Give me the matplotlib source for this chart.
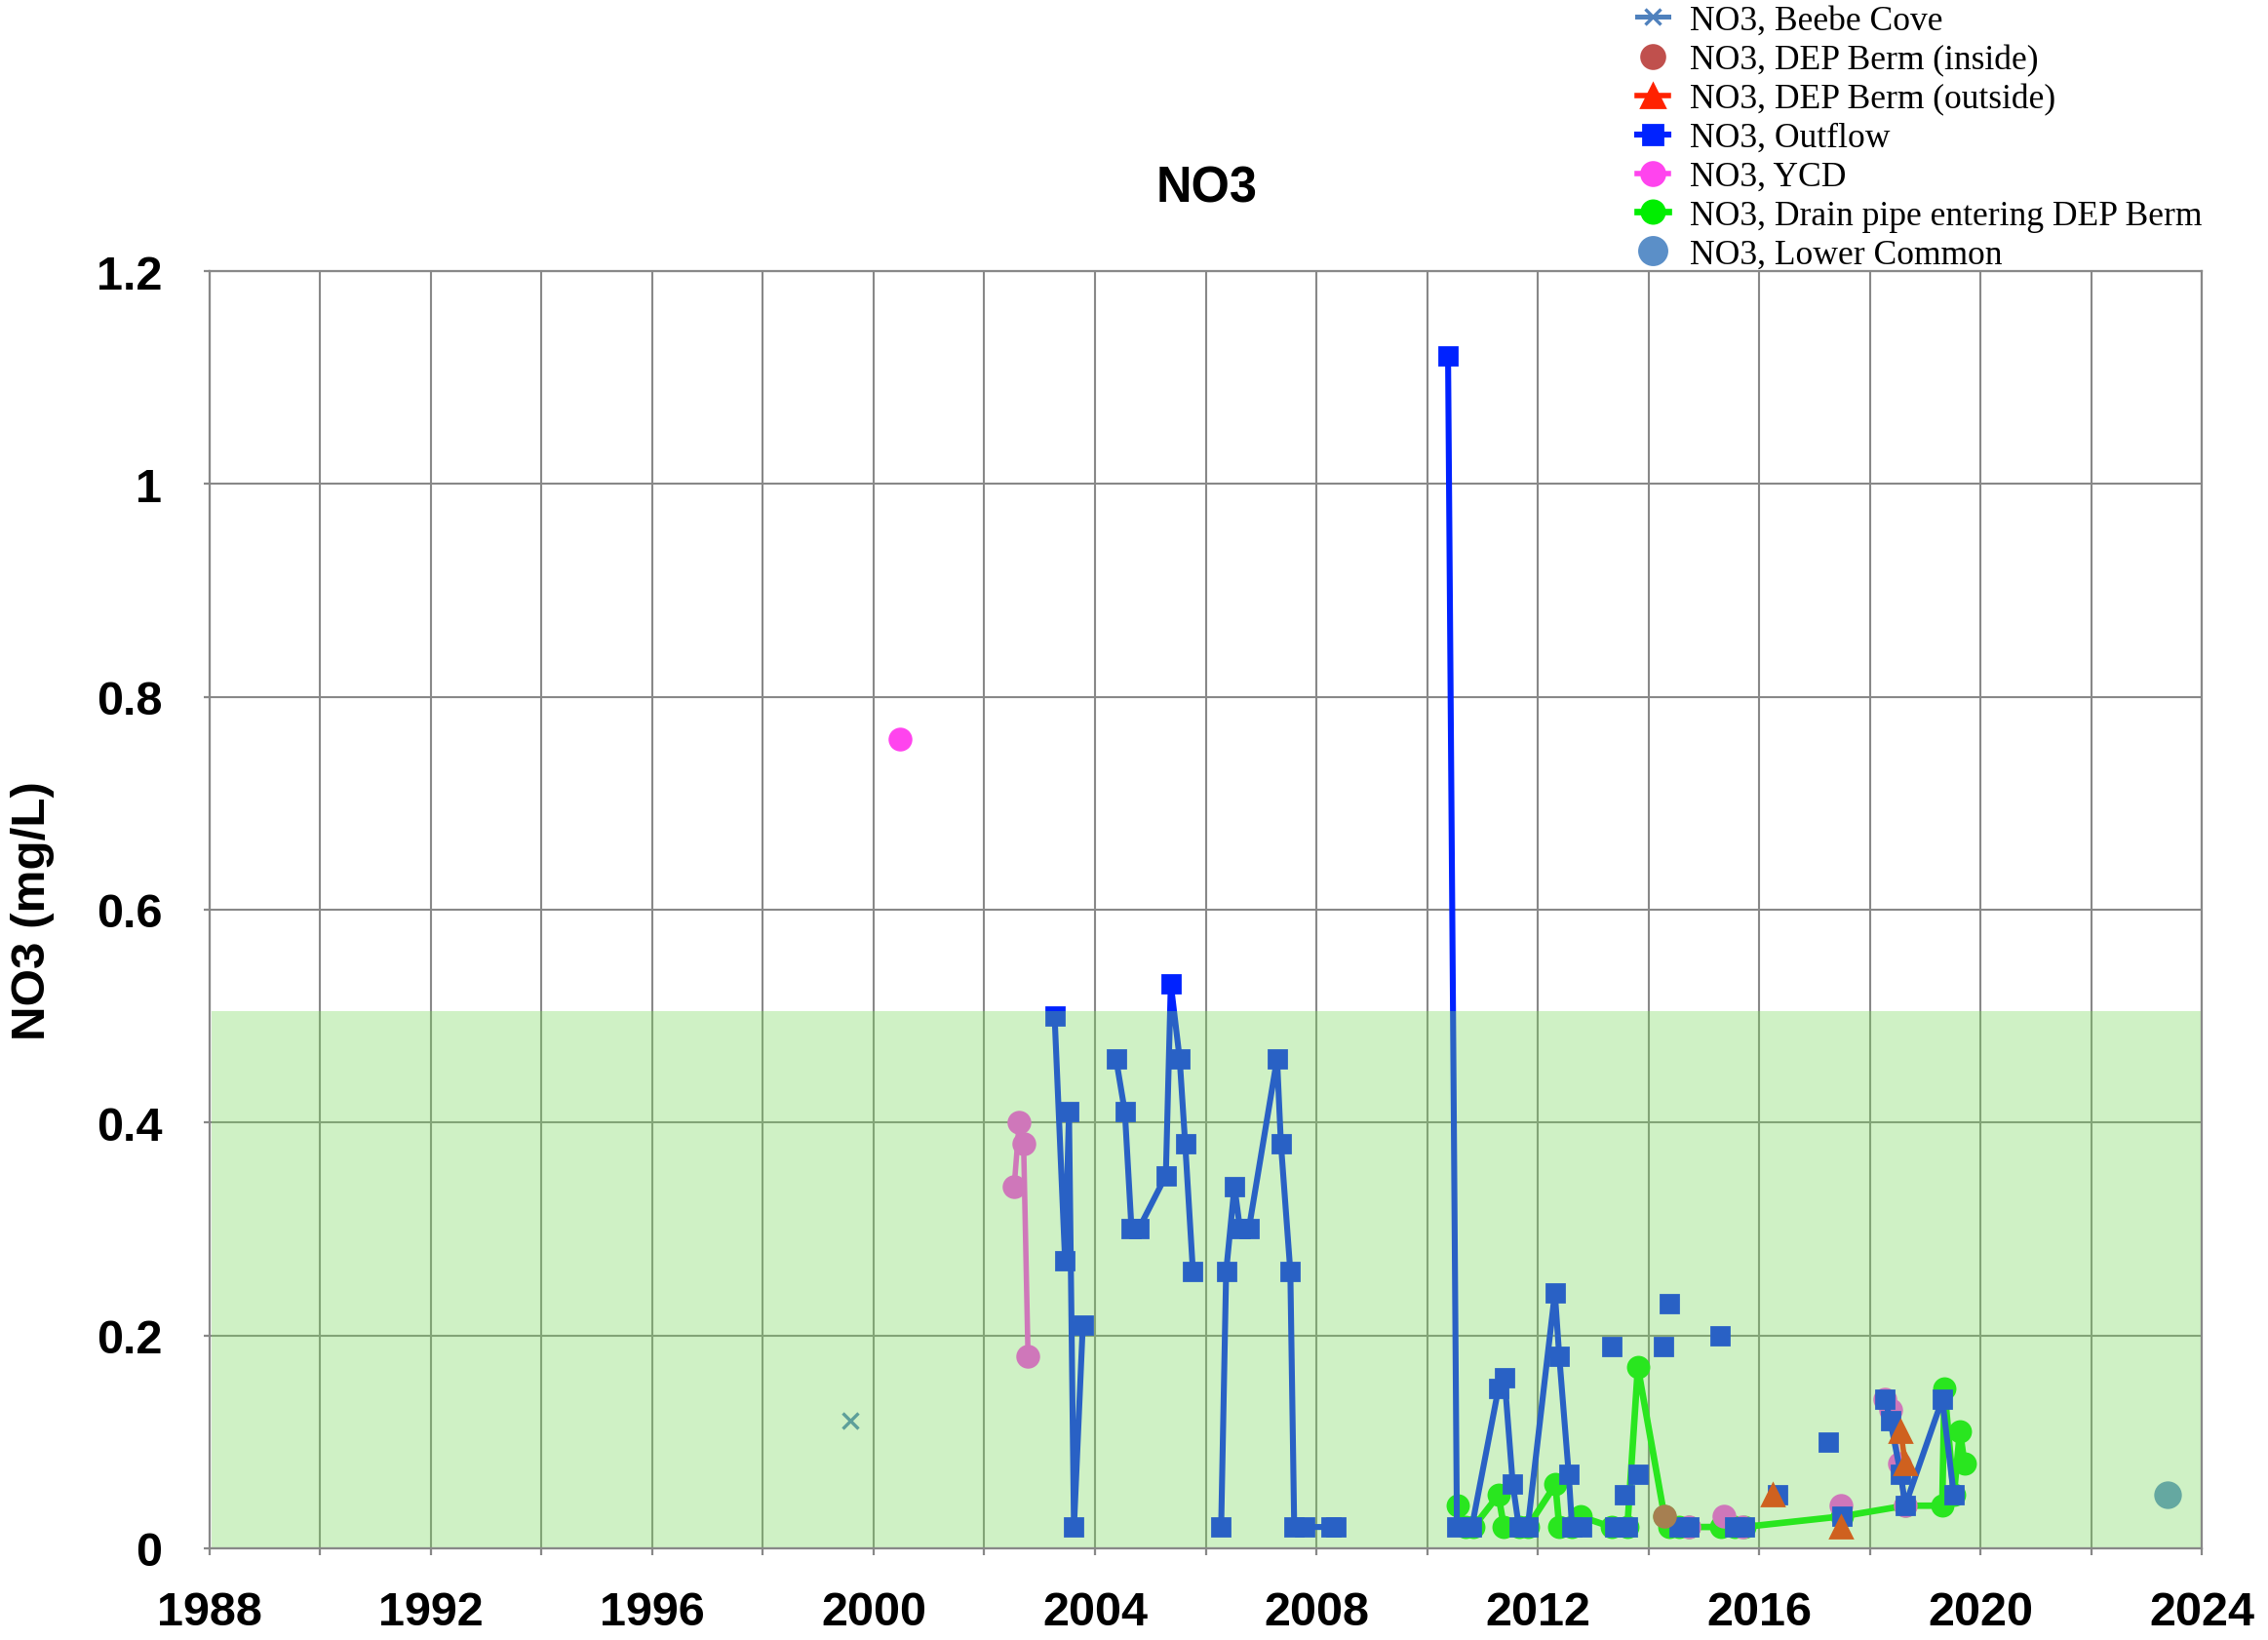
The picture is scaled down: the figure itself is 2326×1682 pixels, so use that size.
import numpy as np
import matplotlib
matplotlib.use("Agg")
import matplotlib.pyplot as plt
from matplotlib.ticker import MultipleLocator, FuncFormatter

nan = np.nan

# NO3 (mg/L) by decimal year; nan = gap in the line (blank cell)
beebe_x = [1999.58]
beebe_y = [0.12]

berm_in_x = [2014.29]
berm_in_y = [0.03]

berm_out_x = [2016.25, nan, 2017.48, nan, 2018.56, 2018.64]
berm_out_y = [0.05, nan, 0.02, nan, 0.11, 0.08]

outflow_x = [2003.27, 2003.46, 2003.53, 2003.62, 2003.78, nan,
             2004.38, 2004.54, 2004.66, 2004.79, 2005.28, 2005.37, 2005.53, 2005.63, 2005.77, nan,
             2006.28, 2006.37, 2006.52, 2006.62, 2006.78, 2007.29, 2007.36, 2007.53, 2007.60,
             2007.78, 2008.27, 2008.36, nan,
             2010.38, 2010.54, 2010.81, 2011.29, 2011.40, 2011.55, 2011.66, 2011.82, 2012.31,
             2012.39, 2012.56, 2012.62, 2012.80, nan,
             2013.33, nan, 2013.39, nan, 2013.56, nan, 2013.62, nan, 2013.81, nan,
             2014.28, nan, 2014.38, nan, 2014.56, nan, 2014.73, nan, 2015.30, nan,
             2015.55, nan, 2015.73, nan, 2016.33, nan, 2017.25, nan, 2017.50, nan,
             2018.28, 2018.37, 2018.56, 2018.64, 2019.31, 2019.52]
outflow_y = [0.50, 0.27, 0.41, 0.02, 0.21, nan,
             0.46, 0.41, 0.30, 0.30, 0.35, 0.53, 0.46, 0.38, 0.26, nan,
             0.02, 0.26, 0.34, 0.30, 0.30, 0.46, 0.38, 0.26, 0.02,
             0.02, 0.02, 0.02, nan,
             1.12, 0.02, 0.02, 0.15, 0.16, 0.06, 0.02, 0.02, 0.24,
             0.18, 0.07, 0.02, 0.02, nan,
             0.19, nan, 0.02, nan, 0.05, nan, 0.02, nan, 0.07, nan,
             0.19, nan, 0.23, nan, 0.02, nan, 0.02, nan, 0.20, nan,
             0.02, nan, 0.02, nan, 0.05, nan, 0.10, nan, 0.03, nan,
             0.14, 0.12, 0.07, 0.04, 0.14, 0.05]

ycd_x = [2000.48, nan, 2002.54, 2002.63, 2002.71, 2002.79, nan,
         2014.73, nan, 2015.37, nan, 2015.70, nan, 2017.48, nan,
         2018.28, 2018.37, 2018.53, 2018.64]
ycd_y = [0.76, nan, 0.34, 0.40, 0.38, 0.18, nan,
         0.02, nan, 0.03, nan, 0.02, nan, 0.04, nan,
         0.14, 0.13, 0.08, 0.04]

drain_x = [2010.56, 2010.69, 2010.84, 2011.29, 2011.39, 2011.66, 2011.82, 2012.32, 2012.39,
           2012.62, 2012.77, 2013.33, 2013.62, 2013.81, 2014.29, 2014.38, 2014.56, 2014.73,
           2015.32, 2015.55, 2015.73, 2017.50, 2018.64, 2019.31, 2019.35, 2019.52, 2019.63,
           2019.71]
drain_y = [0.04, 0.02, 0.02, 0.05, 0.02, 0.02, 0.02, 0.06, 0.02,
           0.02, 0.03, 0.02, 0.02, 0.17, 0.03, 0.02, 0.02, 0.02,
           0.02, 0.02, 0.02, 0.03, 0.04, 0.04, 0.15, 0.05, 0.11,
           0.08]

lower_x = [2023.38]
lower_y = [0.05]

guide_top = 0.505  # shaded band

fig = plt.figure(figsize=(11.63, 8.415), dpi=200)
ax = fig.add_axes([0.0924, 0.0559, 0.8784, 0.7783])

GRAY = "#888888"

h_beebe, = ax.plot(beebe_x, beebe_y, color="#4f81bd", lw=1.8, marker="x", ms=5.5, mew=1.2,
                   label="NO3, Beebe Cove", zorder=6)
h_in, = ax.plot(berm_in_x, berm_in_y, color="#c0504d", ls="none", marker="o", ms=7.8,
                label="NO3, DEP Berm (inside)", zorder=5)
h_out, = ax.plot(berm_out_x, berm_out_y, color="#ff2200", lw=2.0, marker="^", ms=8,
                 label="NO3, DEP Berm (outside)", zorder=6)
h_flow, = ax.plot(outflow_x, outflow_y, color="#0022ff", lw=2.2, marker="s", ms=6.8,
                  label="NO3, Outflow", zorder=4)
h_ycd, = ax.plot(ycd_x, ycd_y, color="#ff44ee", lw=2.0, marker="o", ms=7.8,
                 label="NO3, YCD", zorder=3)
h_drain, = ax.plot(drain_x, drain_y, color="#00ee00", lw=2.4, marker="o", ms=7.6,
                   label="NO3, Drain pipe entering DEP Berm", zorder=2)
h_low, = ax.plot(lower_x, lower_y, color="#5b8fc8", ls="none", marker="o", ms=9.2,
                 label="NO3, Lower Common", zorder=6)

# translucent guide band on top of the data
ax.axhspan(0, guide_top, xmin=0.001, xmax=1, facecolor="#78d959", alpha=0.35, lw=0, zorder=7)

ax.set_xlim(1988, 2024)
ax.set_ylim(0, 1.2)
ax.xaxis.set_major_locator(MultipleLocator(2))
ax.xaxis.set_major_formatter(FuncFormatter(lambda v, p: f"{int(round(v))}" if int(round(v)) % 4 == 0 else ""))
ax.yaxis.set_major_locator(MultipleLocator(0.2))
ax.yaxis.set_major_formatter(FuncFormatter(lambda v, p: f"{v:g}"))
ax.grid(True, color=GRAY, lw=0.75, zorder=0)
ax.set_axisbelow(True)
for s in ax.spines.values():
    s.set_color(GRAY)
    s.set_linewidth(0.8)
    s.set_zorder(8)
ax.tick_params(axis="x", direction="out", length=2.5, width=0.8, color=GRAY, pad=13)
ax.tick_params(axis="y", direction="out", length=2, width=0.8, color=GRAY, pad=15.5)
for lab in ax.get_xticklabels() + ax.get_yticklabels():
    lab.set_fontfamily("Liberation Sans")
    lab.set_fontweight("bold")
    lab.set_fontsize(17.5)

fig.text(0.532, 0.8845, "NO3", ha="center", va="center", family="Liberation Sans",
         fontweight="bold", fontsize=18.2)
fig.text(0.0142, 0.4449, "NO3 (mg/L)", ha="center", va="center", rotation=90,
         family="Liberation Sans", fontweight="bold", fontsize=17.8)

fig.legend(handles=[h_beebe, h_in, h_out, h_flow, h_ycd, h_drain, h_low],
           loc="upper left", bbox_to_anchor=(0.722, 0.9965), bbox_transform=fig.transFigure,
           frameon=False, borderpad=0, borderaxespad=0, handlelength=0.9, handletextpad=0.6,
           labelspacing=0.195, numpoints=1, markerscale=1.1,
           prop={"family": "Liberation Serif", "size": 12.8})

fig.savefig("out.png", dpi=200)
